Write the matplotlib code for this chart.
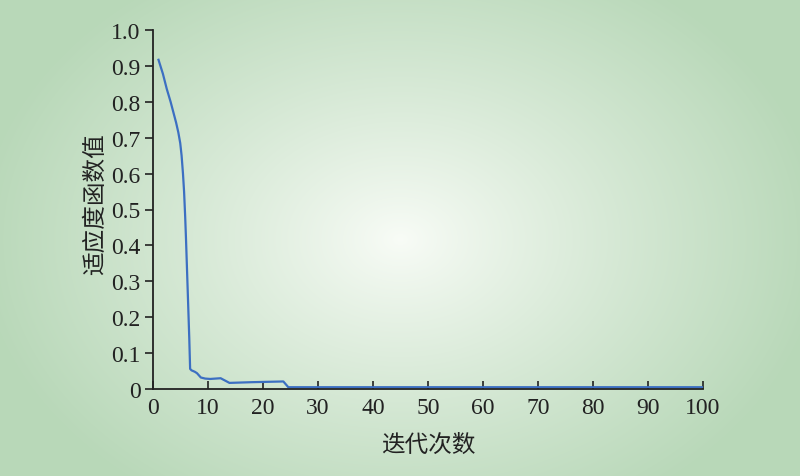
import matplotlib
matplotlib.use("Agg")
import matplotlib.pyplot as plt
import numpy as np

# 迭代次数 / 适应度函数值
iters = [1, 1.8, 2.5, 3.2, 3.7, 4.2, 4.6, 4.95, 5.2, 5.45, 5.65, 5.85, 6.0, 6.3, 6.6, 6.75,
         7.0, 7.6, 8.0, 8.7, 9.5, 10.4, 12.3, 13.9, 18, 23.7, 24.6, 100]
fitness = [0.917, 0.878, 0.836, 0.800, 0.771, 0.742, 0.715, 0.685, 0.650, 0.600, 0.550, 0.480,
           0.418, 0.279, 0.139, 0.056, 0.052, 0.048, 0.044, 0.032, 0.029, 0.028, 0.030, 0.017,
           0.019, 0.021, 0.005, 0.005]

xticks = [0, 10, 20, 30, 40, 50, 60, 70, 80, 90, 100]
yticks = [0, 0.1, 0.2, 0.3, 0.4, 0.5, 0.6, 0.7, 0.8, 0.9, 1.0]
ytick_labels = ["0", "0.1", "0.2", "0.3", "0.4", "0.5", "0.6", "0.7", "0.8", "0.9", "1.0"]

fig = plt.figure(figsize=(8, 4.77), dpi=100)

# radial gradient background
bg = fig.add_axes([0, 0, 1, 1])
W, H = 800, 477
yy, xx = np.mgrid[0:H, 0:W]
r = np.sqrt(((xx - 400) / 420.0) ** 2 + ((yy - 240) / 310.0) ** 2)
r = np.clip(r, 0, 1) ** 0.9
c0 = np.array([0.975, 0.988, 0.968])
c1 = np.array([0.725, 0.848, 0.725])
img = c0[None, None, :] * (1 - r[..., None]) + c1[None, None, :] * r[..., None]
bg.imshow(img, aspect="auto", extent=[0, 1, 0, 1])
bg.axis("off")

ax = fig.add_axes([153 / 800, 1 - 390 / 477, 550 / 800, 359 / 477])
ax.patch.set_alpha(0)
ax.plot(iters, fitness, color="#3c6fc2", lw=1.6)

ax.set_xlim(0, 100)
ax.set_ylim(0, 1.0)
ax.set_xticks(xticks)
ax.set_yticks(yticks)
ax.set_yticklabels(ytick_labels)

for s in ["top", "right"]:
    ax.spines[s].set_visible(False)
for s in ["left", "bottom"]:
    ax.spines[s].set_linewidth(1.3)
    ax.spines[s].set_color("#222222")

ax.tick_params(axis="x", direction="in", length=6, width=1.2, colors="#222222", pad=6)
ax.tick_params(axis="y", direction="out", length=6, width=1.2, colors="#222222", pad=3)
for lab in ax.get_xticklabels() + ax.get_yticklabels():
    lab.set_fontfamily("Liberation Serif")
    lab.set_fontsize(17)

fig.text(428 / 800, 1 - 445 / 477, "迭代次数", ha="center", va="center",
         fontsize=17, family=["Noto Sans CJK SC", "DejaVu Sans"], color="#222222")
fig.text(95 / 800, 1 - 204 / 477, "适应度函数值", ha="center", va="center", rotation=90,
         fontsize=17, family=["Noto Sans CJK SC", "DejaVu Sans"], color="#222222")

fig.savefig("out.png", dpi=100)
